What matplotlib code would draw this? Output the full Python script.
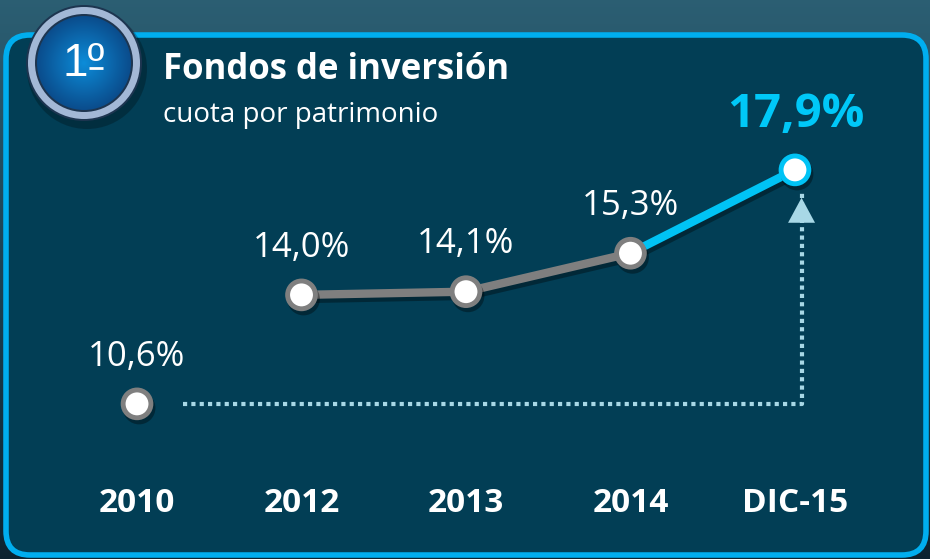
import numpy as np
import matplotlib
matplotlib.use("Agg")
import matplotlib.pyplot as plt
import matplotlib.patheffects as pe
from matplotlib.patches import FancyBboxPatch, Circle, Polygon

plt.rcParams['font.family'] = ['Open Sans', 'DejaVu Sans']

# cuota de mercado de los fondos de inversión (%)
periodos = ["2010", "2012", "2013", "2014", "DIC-15"]
cuota = [10.6, 14.0, 14.1, 15.3, 17.9]
etiquetas = ["10,6%", "14,0%", "14,1%", "15,3%", "17,9%"]

W, H = 930, 559
fig = plt.figure(figsize=(W / 100, H / 100), dpi=100)

# fondo y marco en coordenadas de pixel
bg = fig.add_axes([0, 0, 1, 1])
bg.set_xlim(0, W)
bg.set_ylim(H, 0)
bg.axis("off")

grad = np.linspace(0, 1, 256)[:, None]
top = np.array([0.17, 0.37, 0.45])
bot = np.array([0.05, 0.14, 0.19])
img = top[None, None, :] * (1 - grad[..., None]) + bot[None, None, :] * grad[..., None]
img = np.repeat(img, 4, axis=1)
bg.imshow(img, extent=[0, W, H, 0], aspect="auto", zorder=0)

panel = FancyBboxPatch((6, 35), W - 10, H - 39,
                       boxstyle="round,pad=0,rounding_size=24",
                       facecolor="#023e55", edgecolor="#00aeef", linewidth=4, zorder=1)
bg.add_patch(panel)

# insignia "1º"
cx, cy, r = 84, 63, 58
bg.add_patch(Circle((cx + 3, cy + 6), r + 2, facecolor="black", alpha=0.25, zorder=2))
bg.add_patch(Circle((cx, cy), r, facecolor="#1d3550", edgecolor="none", zorder=3))
bg.add_patch(Circle((cx, cy), r - 2, facecolor="#a3b8d6", edgecolor="none", zorder=3))
bg.add_patch(Circle((cx, cy), r - 9, facecolor="#1d3550", edgecolor="none", zorder=3))
yy, xx = np.mgrid[-1:1:200j, -1:1:200j]
rr = np.clip(np.sqrt(xx ** 2 + yy ** 2), 0, 1)
c_in = np.array([0.05, 0.55, 0.85])
c_out = np.array([0.04, 0.30, 0.55])
rad = c_in[None, None, :] * (1 - rr[..., None]) + c_out[None, None, :] * rr[..., None]
inner = r - 11
im = bg.imshow(rad, extent=[cx - inner, cx + inner, cy + inner, cy - inner], zorder=4)
clip = Circle((cx, cy), inner, transform=bg.transData)
im.set_clip_path(clip)
bg.text(cx, cy + 1, "1º", color="white", fontsize=33, ha="center", va="center",
        family=["Liberation Sans", "DejaVu Sans"], zorder=5)
# subrayado del ordinal
bg.plot([89, 103], [68, 68], color="white", lw=2, solid_capstyle="butt", zorder=5)

bg.text(163, 70, "Fondos de inversión", color="white", fontsize=25,
        fontweight="bold", ha="left", va="center", zorder=5)
bg.text(163, 115, "cuota por patrimonio", color="white", fontsize=20,
        ha="left", va="center", zorder=5)

# ejes de datos
ax = fig.add_axes([0, 0, 1, 1])
ax.patch.set_alpha(0)
ax.axis("off")
ax.set_xlim(-0.833, 4.821)
ax.set_ylim(5.76, 23.2)

x = np.arange(len(periodos))
sombra = [pe.SimpleLineShadow(offset=(1.5, -3), alpha=0.35, shadow_color="black"), pe.Normal()]

# conector punteado 2010 -> DIC-15
dot = "#a8d8e6"
ax.plot([x[0] + 0.28, x[4] + 0.04, x[4] + 0.04], [cuota[0], cuota[0], 17.2],
        color=dot, lw=3, linestyle=(0, (1, 1)), dash_capstyle="butt", zorder=2)
ax.add_patch(Polygon([[x[4] + 0.04 - 0.082, 16.25], [x[4] + 0.04 + 0.082, 16.25],
                      [x[4] + 0.04, 17.03]], closed=True, facecolor=dot, edgecolor="none", zorder=2))

ax.plot(x[1:4], cuota[1:4], color="#7f7f7f", lw=6, solid_capstyle="round",
        path_effects=sombra, zorder=3)
ax.plot(x[3:5], cuota[3:5], color="#00c3f5", lw=6, solid_capstyle="round",
        path_effects=sombra, zorder=3)

for i in range(len(x)):
    edge = "#00c3f5" if i == 4 else "#7f7f7f"
    ax.plot(x[i], cuota[i], "o", ms=20, mfc="white", mec=edge, mew=3.5,
            path_effects=sombra, zorder=4)

for i in range(4):
    ax.annotate(etiquetas[i], (x[i], cuota[i]), xytext=(0, 34), textcoords="offset points",
                ha="center", va="center", color="white", fontsize=25, zorder=5)
ax.annotate(etiquetas[4], (x[4], cuota[4]), xytext=(1, 40), textcoords="offset points",
            ha="center", va="center", color="#00c8f8", fontsize=34, fontweight="bold", zorder=5)

for i, p in enumerate(periodos):
    ax.text(x[i], 0.10, p, transform=ax.get_xaxis_transform(), ha="center", va="center",
            color="white", fontsize=24, fontweight="bold", zorder=5)

fig.savefig("out.png", dpi=100)
